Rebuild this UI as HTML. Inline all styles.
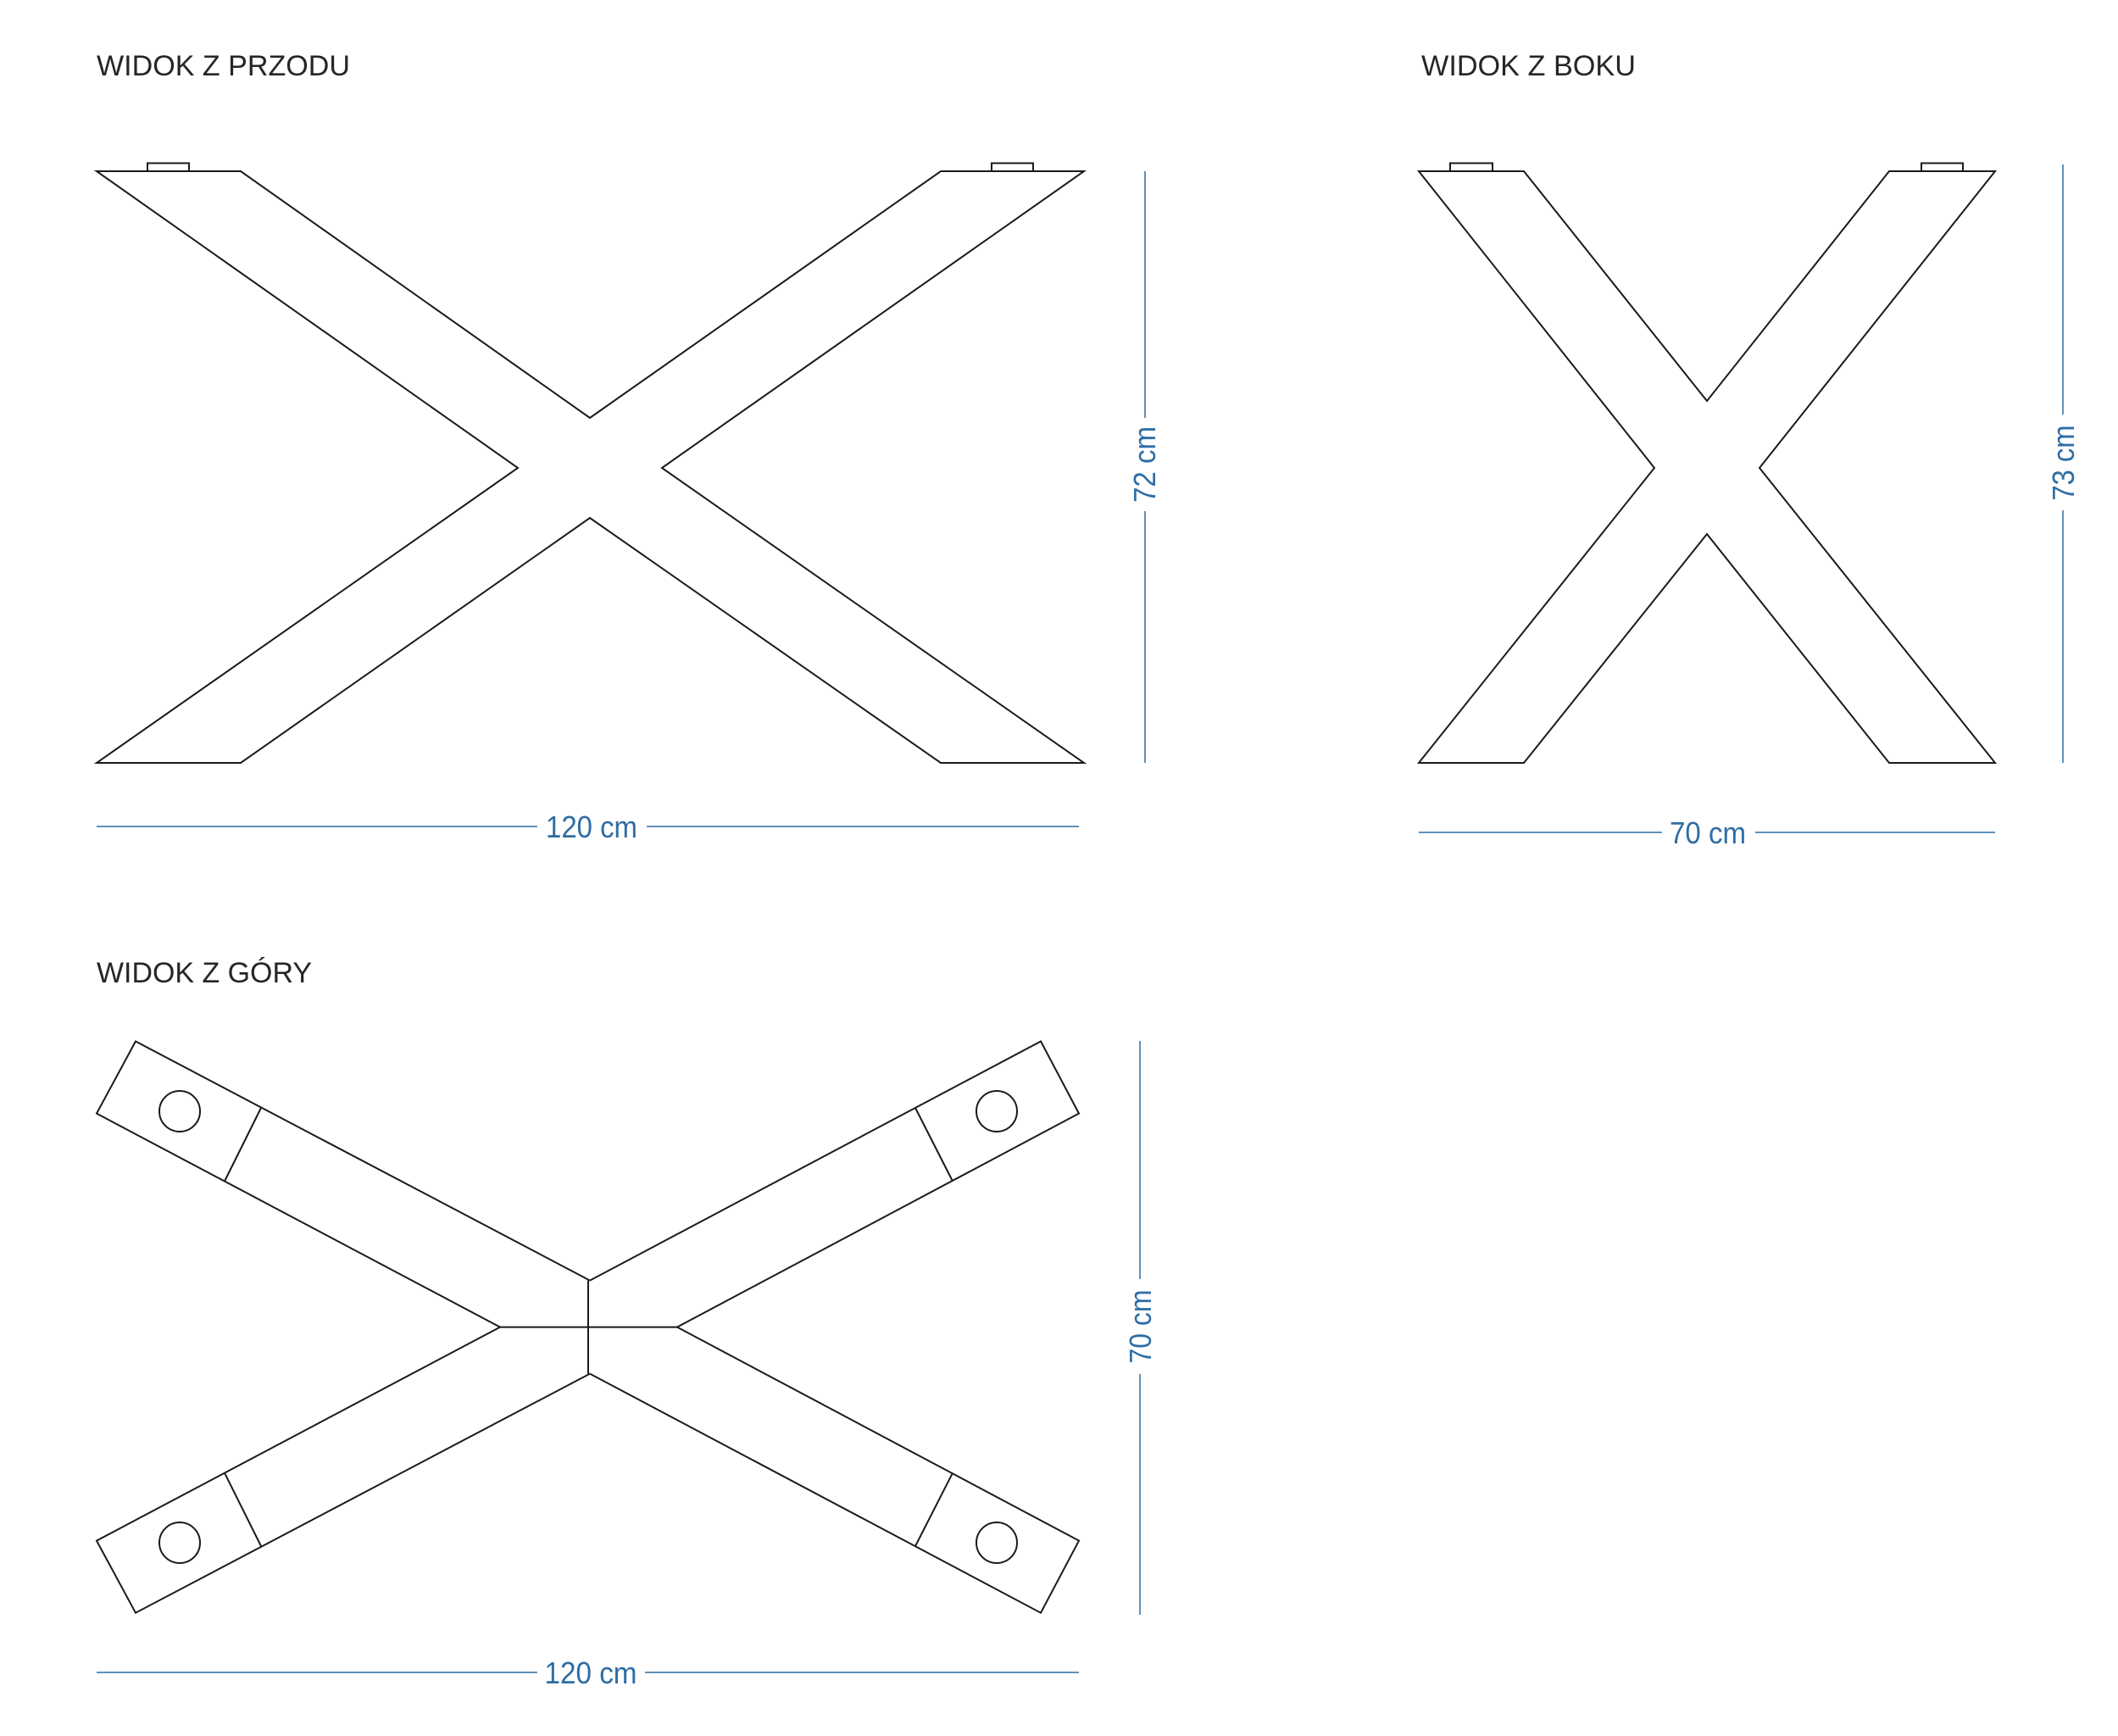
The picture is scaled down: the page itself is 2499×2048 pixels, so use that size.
<!DOCTYPE html>
<html><head><meta charset="utf-8"><style>html,body{margin:0;padding:0;background:#fff}svg{display:block}</style></head>
<body>
<svg width="2499" height="2048" viewBox="0 0 2499 2048" xmlns="http://www.w3.org/2000/svg">
<g font-family="Liberation Sans, sans-serif" fill="#262626" font-size="34">
<text x="114" y="89" textLength="299" lengthAdjust="spacingAndGlyphs">WIDOK Z PRZODU</text>
<text x="1677" y="89" textLength="253" lengthAdjust="spacingAndGlyphs">WIDOK Z BOKU</text>
<text x="114" y="1159" textLength="254" lengthAdjust="spacingAndGlyphs">WIDOK Z GÓRY</text>
</g>
<g fill="none" stroke="#1a1a1a" stroke-width="2" stroke-linejoin="miter">
<!-- front -->
<polygon points="114,202 284,202 696,493 1110,202 1279,202 781,552 1279,900 1110,900 696,611 284,900 114,900 611,552"/>
<rect x="174" y="192.5" width="49" height="9.5"/>
<rect x="1170" y="192.5" width="49" height="9.5"/>
<!-- side -->
<polygon points="1674,202 1798,202 2014,473 2229,202 2354,202 2076,552 2354,900 2229,900 2014,630 1798,900 1674,900 1952,552"/>
<rect x="1711" y="192.5" width="50" height="9.5"/>
<rect x="2267" y="192.5" width="49" height="9.5"/>
<!-- top -->
<polyline points="696,1510.6 160,1228.5 114,1313.6 590,1565.6 114,1817.6 160,1902.7 696,1620.6"/>
<polyline points="696,1510.6 1228,1228.5 1273,1313.6 799,1565.6 1273,1817.6 1228,1902.7 696,1620.6"/>
<line x1="694" y1="1510.6" x2="694" y2="1620.6"/>
<line x1="590" y1="1565.6" x2="799" y2="1565.6"/>
<line x1="308" y1="1307" x2="265" y2="1393.5"/>
<line x1="1080" y1="1307" x2="1124" y2="1393.5"/>
<line x1="308" y1="1824" x2="265" y2="1737.7"/>
<line x1="1080" y1="1824" x2="1124" y2="1737.7"/>
<circle cx="212" cy="1311" r="24"/>
<circle cx="1176" cy="1311" r="24"/>
<circle cx="212" cy="1820" r="24"/>
<circle cx="1176" cy="1820" r="24"/>
</g>
<g stroke="#2e6da4" stroke-width="1.5" fill="none">
<line x1="114" y1="975" x2="634" y2="975"/><line x1="763" y1="975" x2="1273" y2="975"/>
<line x1="1351" y1="202" x2="1351" y2="493"/><line x1="1351" y1="603" x2="1351" y2="900"/>
<line x1="1674" y1="982" x2="1961" y2="982"/><line x1="2071" y1="982" x2="2354" y2="982"/>
<line x1="2434" y1="194" x2="2434" y2="489"/><line x1="2434" y1="602" x2="2434" y2="900"/>
<line x1="114" y1="1973" x2="634" y2="1973"/><line x1="761" y1="1973" x2="1273" y2="1973"/>
<line x1="1345" y1="1228" x2="1345" y2="1509"/><line x1="1345" y1="1621" x2="1345" y2="1905"/>
</g>
<g fill="#2e6da4" font-family="Liberation Sans, sans-serif" font-size="36" text-anchor="middle">
<text x="698" y="988" textLength="108" lengthAdjust="spacingAndGlyphs">120 cm</text>
<text x="2015" y="995" textLength="90" lengthAdjust="spacingAndGlyphs">70 cm</text>
<text x="697" y="1986" textLength="109" lengthAdjust="spacingAndGlyphs">120 cm</text>
<text transform="translate(1363,548) rotate(-90)" textLength="90" lengthAdjust="spacingAndGlyphs">72 cm</text>
<text transform="translate(2447,546) rotate(-90)" textLength="89" lengthAdjust="spacingAndGlyphs">73 cm</text>
<text transform="translate(1358,1565) rotate(-90)" textLength="87" lengthAdjust="spacingAndGlyphs">70 cm</text>
</g>
</svg>
</body></html>
